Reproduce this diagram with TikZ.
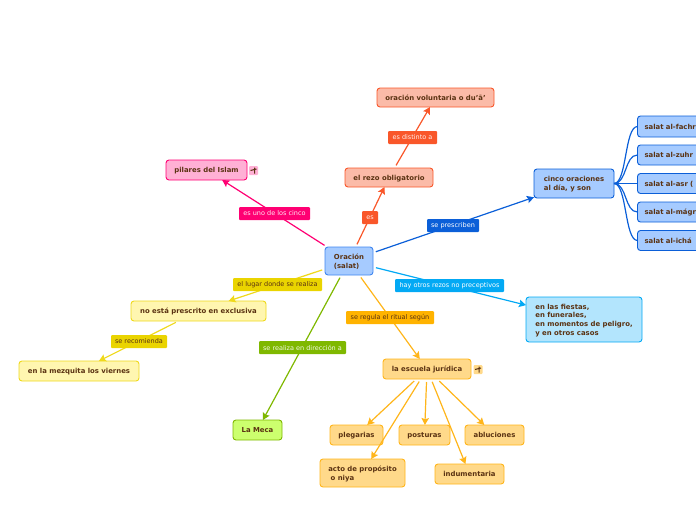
\documentclass[tikz,border=0pt]{standalone}
\usepackage{fontspec}
\setmainfont{DejaVu Sans}
\usetikzlibrary{arrows.meta,calc}
\definecolor{txt}{HTML}{5A3212}
\definecolor{bluef}{HTML}{A6CBFF}\definecolor{bluel}{HTML}{0B5FD8}\definecolor{blueb}{HTML}{3F86F0}
\definecolor{redf}{HTML}{FBBBA8}\definecolor{redl}{HTML}{F9572A}
\definecolor{pinkf}{HTML}{FFB0D5}\definecolor{pinkl}{HTML}{FF0073}
\definecolor{yelf}{HTML}{FFF6B0}\definecolor{yell}{HTML}{EFD91C}\definecolor{yelb}{HTML}{EAD400}
\definecolor{orf}{HTML}{FFD98A}\definecolor{orl}{HTML}{FFB51A}\definecolor{orb}{HTML}{FFB300}
\definecolor{grf}{HTML}{CCFF6E}\definecolor{grl}{HTML}{7FB800}
\definecolor{cyf}{HTML}{B3E5FD}\definecolor{cyl}{HTML}{03A9F4}
\tikzset{
  x=1pt,y=-1pt,
  box/.style n args={4}{draw=#4,fill=#3,line width=0.9pt,rounded corners=3pt,text=txt,
    font=\fontsize{6.9}{8.7}\selectfont\bfseries,minimum width=#1,minimum height=#2,inner sep=0pt,outer sep=0pt,align=left,
    text depth=0pt},
  lab/.style n args={4}{fill=#3,text=#4,font=\fontsize{6.5}{7}\selectfont,minimum width=#1,minimum height=#2,
    inner sep=0pt,outer sep=0pt,rounded corners=1pt},
  conn/.style={draw=#1,line width=1.2pt,shorten <=3pt,-{Stealth[length=7pt,width=7.5pt,inset=1.2pt]}},
  curv/.style={draw=bluel,line width=1.2pt},
  tag/.style={fill=#1,minimum width=9pt,minimum height=9pt,inner sep=0pt,outer sep=0pt,rounded corners=1pt},
  glyph/.style={draw=txt,line width=1pt}
}
\begin{document}
\begin{tikzpicture}
\useasboundingbox (0,0) rectangle (696,520);
\clip (0,0) rectangle (696,520);
% main boxes
\node[box={48pt}{28pt}{bluef}{blueb}] (ora) at (349,261) {Oración\\(salat)};
\node[box={117pt}{19pt}{redf}{redl}] (vol) at (435.5,97.5) {oración voluntaria o du'ā'};
\node[box={88pt}{19pt}{redf}{redl}] (rez) at (389,177.5) {el rezo obligatorio};
\node[box={81pt}{20pt}{pinkf}{pinkl}] (pil) at (206.5,170) {pilares del Islam};
\node[box={80pt}{29pt}{bluef}{bluel}] (cin) at (574,183.5) {cinco oraciones\\al día, y son};
\node[box={116pt}{45pt}{cyf}{cyl}] (fie) at (584,319.5) {en las fiestas,\\en funerales,\\en momentos de peligro,\\y en otros casos};
\node[box={135pt}{20pt}{yelf}{yell}] (noe) at (198.5,311) {no está prescrito en exclusiva};
\node[box={120pt}{20pt}{yelf}{yell}] (mez) at (79,371) {en la mezquita los viernes};
\node[box={49pt}{20pt}{grf}{grl}] (mec) at (257.5,430) {La Meca};
\node[box={88pt}{20pt}{orf}{orl}] (esc) at (427,369) {la escuela jurídica};
\node[box={53pt}{20pt}{orf}{orl}] (ple) at (356.5,435) {plegarias};
\node[box={51pt}{20pt}{orf}{orl}] (pos) at (424.5,435) {posturas};
\node[box={59pt}{20pt}{orf}{orl}] (abl) at (494.5,435) {abluciones};
\node[box={85pt}{28pt}{orf}{orl}] (act) at (362.5,473) {acto de propósito\\\ o niya};
\node[box={69pt}{20pt}{orf}{orl}] (ind) at (469.5,474) {indumentaria};
\node[box={86pt}{21pt}{bluef}{bluel},anchor=west,text width=72pt,align=left] (s1) at (637.5,126.5) {salat al-fachr};
\node[box={86pt}{20pt}{bluef}{bluel},anchor=west,text width=72pt,align=left] (s2) at (637.5,155) {salat al-zuhr};
\node[box={86pt}{20pt}{bluef}{bluel},anchor=west,text width=72pt,align=left] (s3) at (637.5,183.5) {salat al-asr (};
\node[box={86pt}{20pt}{bluef}{bluel},anchor=west,text width=72pt,align=left] (s4) at (637.5,212) {salat al-mágr};
\node[box={86pt}{20pt}{bluef}{bluel},anchor=west,text width=72pt,align=left] (s5) at (637.5,240.5) {salat al-ichá};
% icons
\node[tag=pinkf] (t1) at (253.5,170.5) {};
\draw[glyph] ($(t1)+(-3,0)$) -- ($(t1)+(3,-1.5)$) ($(t1)+(1,-3)$) -- ($(t1)+(1,3)$);
\node[tag=orf] (t2) at (478,369.5) {};
\draw[glyph] ($(t2)+(-3,0)$) -- ($(t2)+(3,-1.5)$) ($(t2)+(1,-3)$) -- ($(t2)+(1,3)$);
% connectors
\draw[conn=redl] (ora) -- (rez);
\draw[conn=redl] (rez) -- (vol);
\draw[conn=pinkl] (ora) -- (pil);
\draw[conn=bluel] (ora) -- (cin);
\draw[conn=cyl] (ora) -- (fie);
\draw[conn=yell] (ora) -- (noe);
\draw[conn=yell] (noe) -- (mez);
\draw[conn=grl] (ora) -- (mec);
\draw[conn=orl] (ora) -- (esc);
\draw[conn=orl] (esc) -- (ple);
\draw[conn=orl] (esc) -- (pos);
\draw[conn=orl] (esc) -- (abl);
\draw[conn=orl] (esc) -- (act);
\draw[conn=orl] (esc) -- (ind);
\foreach \t in {s1,s2,s3,s4,s5}{
  \draw[curv] (cin.east) .. controls ($(cin.east)+(13,0)$) and ($(\t.west)+(-13,0)$) .. (\t.west);
}
% labels
\node[lab={49pt}{13pt}{redl}{white!90!redl}] (l1) at (412.5,137.5) {es distinto a};
\node[lab={16pt}{13pt}{redl}{white!90!redl}] (l2) at (370,217.5) {es};
\node[lab={71pt}{13pt}{pinkl}{white!90!pinkl}] (l3) at (274.5,213.5) {es uno de los cinco};
\node[lab={52pt}{13pt}{bluel}{white}] (l4) at (453,225.5) {se prescriben};
\node[lab={89pt}{13pt}{yelb}{txt}] (l5) at (277.5,284.5) {el lugar donde se realiza};
\node[lab={109pt}{13pt}{cyl}{white}] (l6) at (449.5,285.5) {hay otros rezos no preceptivos};
\node[lab={88pt}{13pt}{orb}{txt}] (l7) at (390,317.5) {se regula el ritual según};
\node[lab={56pt}{13pt}{yelb}{txt}] (l8) at (139,341.5) {se recomienda};
\node[lab={87pt}{13pt}{grl}{white!90!grl}] (l9) at (302.5,347.5) {se realiza en dirección a};
\end{tikzpicture}
\end{document}
